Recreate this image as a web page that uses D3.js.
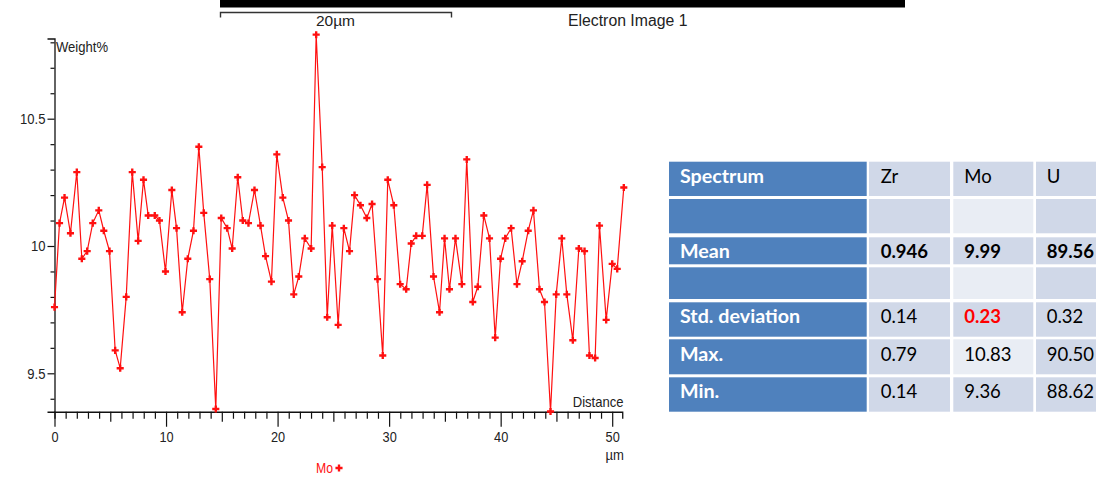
<!DOCTYPE html>
<html>
<head>
<meta charset="utf-8">
<script src="https://cdn.jsdelivr.net/npm/d3@7"></script>
<style>
  html, body { margin: 0; padding: 0; background: #fff; }
  svg { display: block; }
  .narrow { font-family: 'Liberation Sans Narrow', 'Arial Narrow', 'Liberation Sans', sans-serif; }
  .tbl { font-family: Lato, 'Open Sans', sans-serif; }
</style>
</head>
<body>
<div id="chart"></div>
<script>
// ===========================
// Mo line scan (Weight% vs Distance) + EDS summary table
// ===========================

// --- line scan data ---
const distance = [
    0, 0.45, 0.90, 1.43, 2.00, 2.45, 2.93, 3.43, 3.97, 4.42,
    4.93, 5.44, 5.89, 6.43, 6.97, 7.50, 7.98, 8.40, 8.99, 9.41,
    9.95, 10.52, 10.94, 11.45, 11.95, 12.46, 12.94, 13.38, 13.92, 14.46,
    14.95, 15.48, 15.93, 16.43, 16.88, 17.39, 17.93, 18.47, 18.92, 19.45,
    19.93, 20.47, 20.98, 21.45, 21.90, 22.44, 23.01, 23.46, 24.00, 24.45,
    24.90, 25.43, 25.94, 26.45, 26.90, 27.43, 28.00, 28.47, 28.96, 29.43,
    29.88, 30.42, 30.99, 31.53, 31.98, 32.43, 32.97, 33.41, 33.98, 34.52,
    34.97, 35.41, 35.95, 36.52, 36.96, 37.50, 37.95, 38.49, 39.00, 39.51,
    39.99, 40.41, 40.94, 41.46, 41.93, 42.47, 42.94, 43.48, 43.93, 44.47,
    44.98, 45.48, 45.93, 46.47, 47.01, 47.52, 47.96, 48.47, 48.86, 49.46,
    50.00, 50.45, 51.04
];
const moWeight = [
    9.76, 10.09, 10.19, 10.05, 10.29, 9.95, 9.98, 10.09, 10.14, 10.06,
    9.98, 9.59, 9.52, 9.80, 10.29, 10.02, 10.26, 10.12, 10.12, 10.10,
    9.90, 10.22, 10.07, 9.74, 9.95, 10.06, 10.39, 10.13, 9.87, 9.36,
    10.11, 10.07, 9.99, 10.27, 10.10, 10.09, 10.22, 10.08, 9.96, 9.86,
    10.36, 10.19, 10.10, 9.81, 9.88, 10.03, 9.99, 10.83, 10.31, 9.72,
    10.08, 9.69, 10.07, 9.98, 10.20, 10.16, 10.11, 10.165, 9.87, 9.57,
    10.26, 10.16, 9.85, 9.83, 10.01, 10.04, 10.04, 10.24, 9.88, 9.74,
    10.03, 9.83, 10.03, 9.85, 10.34, 9.78, 9.84, 10.12, 10.03, 9.64,
    9.95, 10.03, 10.07, 9.85, 9.94, 10.06, 10.14, 9.83, 9.78, 9.35,
    9.81, 10.03, 9.81, 9.63, 9.99, 9.98, 9.57, 9.56, 10.08, 9.71,
    9.93, 9.91, 10.23
];
const xTicks = d3.range(0, 51);
const yTicks = d3.range(94, 109).map(d => d / 10);
const yLabelled = [9.5, 10, 10.5];

// --- table data ---
const rowLabels = ['Spectrum', '', 'Mean', '', 'Std. deviation', 'Max.', 'Min.'];
const zrCol = ['Zr', '', '0.946', '', '0.14', '0.79', '0.14'];
const moCol = ['Mo', '', '9.99', '', '0.23', '10.83', '9.36'];
const uCol  = ['U', '', '89.56', '', '0.32', '90.50', '88.62'];

const W = 1096, H = 478;
const red = '#ff1010';

// squeeze text horizontally (no narrow font installed)
function condense(sel, k) {
    sel.each(function() {
        const w = this.getComputedTextLength();
        if (w > 0) {
            d3.select(this)
                .attr('textLength', w * k)
                .attr('lengthAdjust', 'spacingAndGlyphs');
        }
    });
}

const svg = d3.select('#chart')
    .append('svg')
    .attr('width', W)
    .attr('height', H);

// --- image header strip + scale bar ---
svg.append('rect')
    .attr('x', 220).attr('y', 0)
    .attr('width', 685).attr('height', 7.5)
    .attr('fill', '#000');

svg.append('path')
    .attr('d', 'M220.5,17.5V12.5H451.5V17.5')
    .attr('fill', 'none')
    .attr('stroke', '#333')
    .attr('stroke-width', 1.4);

svg.append('text')
    .attr('x', 335.5).attr('y', 26)
    .attr('text-anchor', 'middle')
    .style('font-family', 'Liberation Sans, Arial, sans-serif')
    .style('font-size', '15.5px')
    .attr('fill', '#222')
    .text('20µm');

svg.append('text')
    .attr('x', 568).attr('y', 26)
    .style('font-family', 'Liberation Sans, Arial, sans-serif')
    .style('font-size', '15.8px')
    .attr('fill', '#222')
    .text('Electron Image 1');

// --- scales ---
const xScale = d3.scaleLinear()
    .domain([0, 50])
    .range([54.5, 612.2]);

const yScale = d3.scaleLinear()
    .domain([9.5, 10.5])
    .range([373.3, 118.7]);

const xAxisScale = xScale.copy().domain([0, 50.9]).range([xScale(0), xScale(50.9)]);
const yAxisScale = yScale.copy().domain([9.349, 10.815]).range([yScale(9.349), yScale(10.815)]);

// --- x axis ---
const xAxis = svg.append('g')
    .attr('class', 'narrow')
    .attr('transform', `translate(0,${yScale(9.349)})`)
    .call(d3.axisBottom(xAxisScale)
        .tickValues(xTicks)
        .tickSizeOuter(0)
        .tickSize(7)
        .tickFormat(d => d % 10 === 0 ? d : ''));

xAxis.select('.domain').attr('stroke', '#111').attr('stroke-width', 1.3);
xAxis.selectAll('.tick line')
    .attr('stroke', '#111')
    .attr('stroke-width', 1.2)
    .attr('y2', d => d % 10 === 0 ? 15 : d % 5 === 0 ? 10 : 7);
xAxis.selectAll('.tick text')
    .attr('y', 20)
    .attr('fill', '#222')
    .style('font-size', '15px')
    .call(condense, 0.85);

// --- y axis ---
const yAxis = svg.append('g')
    .attr('class', 'narrow')
    .attr('transform', `translate(${xScale(0)},0)`)
    .call(d3.axisLeft(yAxisScale)
        .tickValues(yTicks)
        .tickSizeOuter(0)
        .tickSize(7)
        .tickPadding(2)
        .tickFormat(d => yLabelled.some(v => Math.abs(v - d) < 1e-6) ? d3.format('~g')(d) : ''));

yAxis.select('.domain').attr('stroke', '#111').attr('stroke-width', 1.3);
yAxis.selectAll('.tick line')
    .attr('stroke', '#111')
    .attr('stroke-width', 1.2)
    .attr('x2', d => yLabelled.some(v => Math.abs(v - d) < 1e-6) ? -7 : -4);
yAxis.selectAll('.tick text')
    .attr('fill', '#222')
    .style('font-size', '15px')
    .call(condense, 0.87);

// axis titles
svg.append('text')
    .attr('class', 'narrow')
    .attr('x', 56).attr('y', 52)
    .style('font-size', '15px')
    .attr('fill', '#222')
    .text('Weight%')
    .call(condense, 0.87);

svg.append('text')
    .attr('class', 'narrow')
    .attr('x', 623.5).attr('y', 407)
    .attr('text-anchor', 'end')
    .style('font-size', '15px')
    .attr('fill', '#222')
    .text('Distance')
    .call(condense, 0.87);

svg.append('text')
    .attr('class', 'narrow')
    .attr('x', 624).attr('y', 460)
    .attr('text-anchor', 'end')
    .style('font-size', '15px')
    .attr('fill', '#222')
    .text('µm')
    .call(condense, 0.87);

// --- Mo line + markers ---
const points = distance.map((d, i) => ({ x: d, y: moWeight[i] }));

const line = d3.line()
    .x(d => xScale(d.x))
    .y(d => yScale(d.y));

svg.append('path')
    .datum(points)
    .attr('d', line)
    .attr('fill', 'none')
    .attr('stroke', red)
    .attr('stroke-width', 1.2);

const cross = d3.symbol().type(d3.symbolCross).size(28);

svg.selectAll('.marker')
    .data(points)
    .join('path')
    .attr('class', 'marker')
    .attr('transform', d => `translate(${xScale(d.x)},${yScale(d.y)})`)
    .attr('d', cross)
    .attr('fill', red);

// legend at the bottom edge
svg.append('text')
    .attr('class', 'narrow')
    .attr('x', 316).attr('y', 473)
    .style('font-size', '14px')
    .attr('fill', red)
    .text('Mo')
    .call(condense, 0.87);

svg.append('path')
    .attr('transform', 'translate(339,468)')
    .attr('d', cross)
    .attr('fill', red);

// --- summary table ---
const colX = [[669, 866.7], [869, 950], [953.3, 1033.3], [1036, 1100]];
const rowY = [[161.7, 196], [199, 233.3], [237.3, 264.3], [267.3, 299], [302.3, 336.7], [339.3, 374.3], [377.3, 411.7]];
const textX = [680, 880.7, 964.3, 1046.7];
const columns = [rowLabels, zrCol, moCol, uCol];

const cells = [];
columns.forEach((col, c) => {
    col.forEach((txt, r) => cells.push({ c, r, txt }));
});

const tbl = svg.append('g').attr('class', 'tbl');

tbl.selectAll('rect')
    .data(cells)
    .join('rect')
    .attr('x', d => colX[d.c][0])
    .attr('y', d => rowY[d.r][0])
    .attr('width', d => colX[d.c][1] - colX[d.c][0])
    .attr('height', d => rowY[d.r][1] - rowY[d.r][0])
    .attr('fill', d => {
        if (d.c === 0) return '#4f81bd';
        if (d.c === 2 && (d.r === 1 || d.r === 3 || d.r === 5)) return '#e9edf4';
        return '#d0d8e8';
    });

tbl.selectAll('text')
    .data(cells.filter(d => d.txt !== ''))
    .join('text')
    .attr('x', d => textX[d.c])
    .attr('y', d => rowY[d.r][0] + (d.r === 5 ? 22 : 20.8))
    .style('font-size', d => d.c === 0 ? '19.7px' : '18.5px')
    .style('font-weight', d => (d.c === 0 || d.r === 2 || (d.c === 2 && d.r === 4)) ? 700 : 400)
    .attr('fill', d => d.c === 0 ? '#fff' : (d.c === 2 && d.r === 4) ? '#ff0000' : '#000')
    .text(d => d.txt);
</script>
</body>
</html>
